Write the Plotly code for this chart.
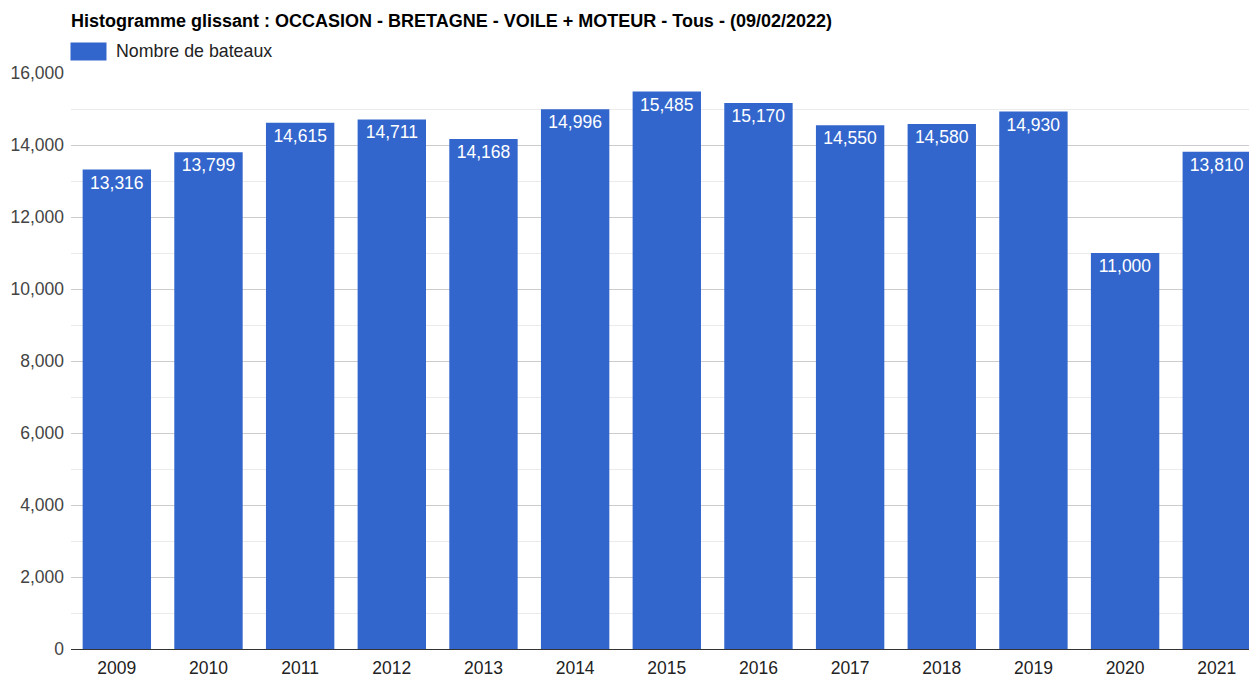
import plotly.graph_objects as go

years = ["2009", "2010", "2011", "2012", "2013", "2014", "2015", "2016", "2017", "2018", "2019", "2020", "2021"]
boats = [13316, 13799, 14615, 14711, 14168, 14996, 15485, 15170, 14550, 14580, 14930, 11000, 13810]
y_ticks = [0, 2000, 4000, 6000, 8000, 10000, 12000, 14000, 16000]
title_text = "Histogramme glissant : OCCASION - BRETAGNE - VOILE + MOTEUR - Tous - (09/02/2022)"
series_name = "Nombre de bateaux"

W, H = 1249, 677
PL, PT, PB = 70.5, 73.3, 649.3  # plot edges in page pixels
L, T, B = PL, PT, H - PB
plot_h = H - T - B
plot_w = W - L

def px_x(x):
    return (x - PL) / plot_w

def px_y(y):
    return 1 + (PT - y) / plot_h

FONT = "Liberation Sans, Arial"

fig = go.Figure(go.Bar(
    x=list(range(len(years))),
    y=boats,
    name=series_name,
    marker=dict(color="#3366cc", line=dict(width=0)),
    text=[f"{v:,}" for v in boats],
    textposition="inside",
    insidetextanchor="end",
    textfont=dict(color="white", size=17.5, family=FONT),
    textangle=0,
    constraintext="none",
    showlegend=False,
))

fig.update_layout(
    width=W, height=H,
    margin=dict(l=L, r=0, t=T, b=B, autoexpand=False),
    paper_bgcolor="white", plot_bgcolor="white",
    bargap=0.254,
    font=dict(family=FONT, size=17.5, color="#444"),
    title=dict(text="<b>" + title_text + "</b>", x=0, xref="paper", xanchor="left",
               y=1 - 21 / H, yanchor="middle",
               font=dict(size=18, color="#000", family=FONT)),
    xaxis=dict(
        range=[-0.5, -0.5 + plot_w / 91.7],
        tickmode="array", tickvals=list(range(len(years))), ticktext=years,
        showgrid=False, zeroline=False, showline=False, ticks="",
        ticklabelstandoff=6,
        tickfont=dict(size=17.5, color="#222"),
    ),
    yaxis=dict(
        range=[0, 16000], tickvals=y_ticks, tickformat=",",
        showgrid=True, gridcolor="#cccccc", gridwidth=1,
        zeroline=True, zerolinecolor="#333333", zerolinewidth=1,
        showline=False, ticks="", ticklabelstandoff=6,
        minor=dict(dtick=1000, showgrid=True, gridcolor="#ebebeb", gridwidth=1),
        tickfont=dict(size=17.5, color="#444"),
    ),
    shapes=[dict(type="rect", xref="paper", yref="paper",
                 x0=px_x(70), x1=px_x(106), y0=px_y(60.7), y1=px_y(42.7),
                 fillcolor="#3366cc", line=dict(width=0))],
    annotations=[dict(text=series_name, xref="paper", yref="paper",
                      x=px_x(114), y=px_y(51.5), xanchor="left", yanchor="middle",
                      showarrow=False, font=dict(size=17.8, color="#222", family=FONT))],
)

fig.write_html(
    "out.html",
    config={"displayModeBar": False},
    post_script="document.body.style.margin='0';document.documentElement.style.overflow='hidden';document.body.style.overflow='hidden';",
)
